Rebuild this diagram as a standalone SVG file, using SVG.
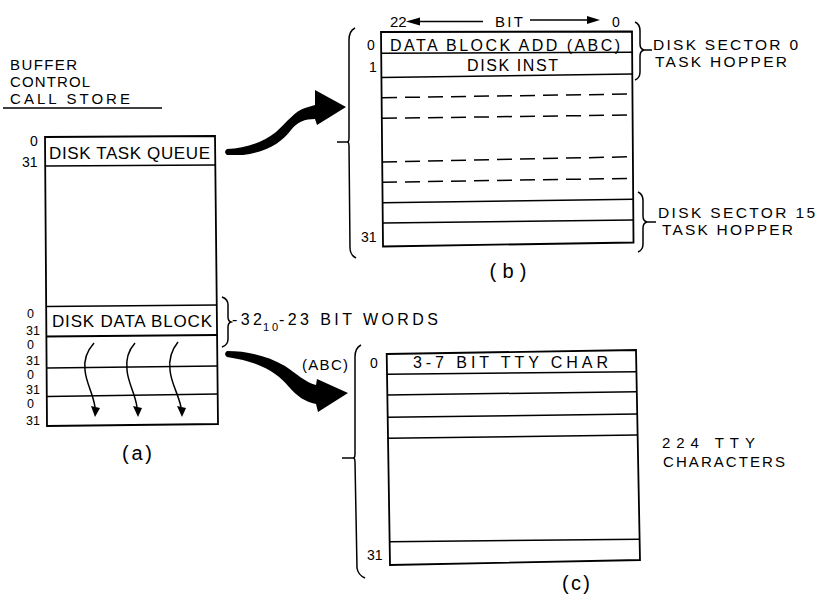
<svg xmlns="http://www.w3.org/2000/svg" width="819" height="599" viewBox="0 0 819 599">
<style>
.t{font-family:"Liberation Sans",Arial,sans-serif;fill:#000}
.ln{stroke:#000;stroke-width:1.8;fill:none}
.rw{stroke:#000;stroke-width:1.5;fill:none}
.ds{stroke:#000;stroke-width:1.5;fill:none;stroke-dasharray:15 8}
.blk{fill:#000;stroke:none}
</style>
<rect width="819" height="599" fill="#fff"/>

<g id="heading">
<text class="t" x="10" y="70" font-size="15" textLength="67" lengthAdjust="spacing">BUFFER</text>
<text class="t" x="10" y="87" font-size="15" textLength="80" lengthAdjust="spacing">CONTROL</text>
<text class="t" x="10" y="104" font-size="15" textLength="120" lengthAdjust="spacing">CALL  STORE</text>
<line class="rw" x1="3" y1="108" x2="162" y2="108"/>
</g>

<g id="panel-a">
<polygon class="ln" points="45,137 215,136 218,424 47,426"/>
<line class="rw" x1="45" y1="166" x2="215" y2="165"/>
<line class="rw" x1="46" y1="306.5" x2="217" y2="305"/>
<line class="ln" x1="46" y1="336.5" x2="217" y2="335"/>
<line class="rw" x1="47" y1="368" x2="218" y2="366"/>
<line class="rw" x1="47" y1="396.5" x2="218" y2="394"/>
<text class="t" x="49" y="159" font-size="17" textLength="161" lengthAdjust="spacing">DISK  TASK QUEUE</text>
<text class="t" x="52" y="327" font-size="17" textLength="160" lengthAdjust="spacing">DISK  DATA  BLOCK</text>
<text class="t" x="30" y="146" font-size="14">0</text>
<text class="t" x="22" y="167" font-size="14">31</text>
<text class="t" x="27" y="318" font-size="12.5">0</text>
<text class="t" x="26" y="335" font-size="12.5">31</text>
<text class="t" x="27" y="349" font-size="12.5">0</text>
<text class="t" x="26" y="364.5" font-size="12.5">31</text>
<text class="t" x="27" y="379" font-size="12.5">0</text>
<text class="t" x="26" y="393.5" font-size="12.5">31</text>
<text class="t" x="27" y="408" font-size="12.5">0</text>
<text class="t" x="26" y="425" font-size="12.5">31</text>
<path class="rw" d="M222,297 Q228,299 228,305 L228,317 Q228,321 231,322 Q228,323 228,327 L228,339 Q228,345 222,347"/>
<text class="t" font-size="16"><tspan x="232" y="325" textLength="30" lengthAdjust="spacing">-32</tspan><tspan x="263" y="331" font-size="11" textLength="15" lengthAdjust="spacing">10</tspan><tspan x="279" y="325" textLength="159" lengthAdjust="spacing">-23 BIT  WORDS</tspan></text>
<text class="t" x="137" y="460" font-size="20" text-anchor="middle" textLength="30" lengthAdjust="spacing">(a)</text>
</g>

<g id="panel-b">
<polygon class="ln" points="381,32 632,31.5 633.5,242.5 383,246.5"/>
<line class="rw" x1="381" y1="53.3" x2="632" y2="52.3"/>
<line class="rw" x1="381" y1="77.5" x2="632" y2="74"/>
<line class="ds" x1="382" y1="97.7" x2="632" y2="94"/>
<line class="ds" x1="382" y1="118.3" x2="632" y2="115"/>
<line class="ds" x1="382" y1="162" x2="633" y2="156.7"/>
<line class="ds" x1="382" y1="182.3" x2="633" y2="178.3"/>
<line class="rw" x1="383" y1="202.7" x2="633" y2="199.3"/>
<line class="rw" x1="383" y1="223" x2="633" y2="220"/>
<text class="t" x="390" y="51" font-size="16" textLength="230" lengthAdjust="spacing">DATA  BLOCK  ADD (ABC)</text>
<text class="t" x="467" y="71" font-size="16" textLength="91" lengthAdjust="spacing">DISK  INST</text>
<text class="t" x="367" y="50" font-size="14">0</text>
<text class="t" x="369" y="72" font-size="14">1</text>
<text class="t" x="361" y="242" font-size="14">31</text>
<text class="t" x="390" y="27" font-size="15">22</text>
<line class="rw" x1="418" y1="21.5" x2="483" y2="21.5"/>
<polygon class="blk" points="406,21.5 420,17.5 420,25.5"/>
<text class="t" x="495" y="27" font-size="15" textLength="28" lengthAdjust="spacing">BIT</text>
<line class="rw" x1="530" y1="20" x2="589" y2="20"/>
<polygon class="blk" points="600,20 587,16 587,24"/>
<text class="t" x="612" y="27" font-size="14">0</text>
<path class="rw" d="M355,28 Q349,31 349,40 L349,138 Q349,141 348,142 Q349,143 349,146 L350,248 Q350,255 356,258"/>
<line class="rw" x1="337" y1="142" x2="348" y2="142"/>
<path class="rw" d="M635,22 Q640,24 640,31 L640,44 Q640,49 644,50 Q640,51 640,56 L640,72 Q640,78 635,80"/>
<line class="rw" x1="644" y1="50" x2="652" y2="50"/>
<path class="rw" d="M638,192 Q643,194 643,201 L643,216 Q643,221 647,222 Q643,223 643,228 L643,244 Q643,250 638,252"/>
<line class="rw" x1="647" y1="222" x2="656" y2="222"/>
<text class="t" x="653" y="50" font-size="15.5" textLength="145" lengthAdjust="spacing">DISK  SECTOR  0</text>
<text class="t" x="655" y="67" font-size="15.5" textLength="132" lengthAdjust="spacing">TASK  HOPPER</text>
<text class="t" x="658" y="218" font-size="15.5" textLength="157" lengthAdjust="spacing">DISK  SECTOR  15</text>
<text class="t" x="662" y="235" font-size="15.5" textLength="131" lengthAdjust="spacing">TASK  HOPPER</text>
<text class="t" x="508" y="278" font-size="20" text-anchor="middle" textLength="37" lengthAdjust="spacing">(b)</text>
</g>

<g id="panel-c">
<polygon class="ln" points="386.7,354 636,350 640,560 390,565"/>
<line class="rw" x1="386.8" y1="374.3" x2="636" y2="371.7"/>
<line class="rw" x1="387" y1="395" x2="636.5" y2="391.7"/>
<line class="rw" x1="387.5" y1="417.3" x2="637" y2="414"/>
<line class="rw" x1="387.7" y1="438.3" x2="637" y2="435"/>
<line class="rw" x1="389.5" y1="541.7" x2="639.5" y2="539.3"/>
<text class="t" x="413" y="368" font-size="16" textLength="195" lengthAdjust="spacing">3-7  BIT  TTY  CHAR</text>
<text class="t" x="370" y="368" font-size="14">0</text>
<text class="t" x="367" y="560" font-size="14">31</text>
<text class="t" x="302" y="370" font-size="15" textLength="46" lengthAdjust="spacing">(ABC)</text>
<path class="rw" d="M361,345 Q355,348 355,357 L355,454 Q355,457 354,458 Q355,459 355,462 L357,568 Q358,575 365,578"/>
<line class="rw" x1="342" y1="458" x2="354" y2="458"/>
<text class="t" x="662" y="448" font-size="15" textLength="93" lengthAdjust="spacing">224 TTY</text>
<text class="t" x="663" y="467" font-size="15" textLength="122" lengthAdjust="spacing">CHARACTERS</text>
<text class="t" x="576" y="590" font-size="20" text-anchor="middle" textLength="28" lengthAdjust="spacing">(c)</text>
</g>

<g id="connectors">
<path class="blk" d="M227,149 C245,148 262,143 276,132 C287,122 295,111 305,108 L315,105 L315,90 L346,107 L317,125 L315,119 C305,119 297,122 291,130 C282,142 268,152 243,155 L227,155 Q223,152 227,149 Z"/>
<path class="blk" d="M227,351 C248,351 268,356 285,366 C297,374 305,382 316,385 L317,379 L348,393 L318,412 L316,404 C305,402 297,396 289,387 C278,374 262,362 227,357 Q223,354 227,351 Z"/>
<path class="rw" d="M94,343 C86,352 84,362 85,370 C86,383 93,393 95,407"/>
<polygon class="blk" points="95,417 91,406 100,408"/>
<path class="rw" d="M135,343 C127,352 126,362 127,370 C128,383 135,393 137,407"/>
<polygon class="blk" points="138,417 133,406 142,408"/>
<path class="rw" d="M178,342 C170,352 169,362 170,370 C171,383 178,393 181,407"/>
<polygon class="blk" points="182,417 177,406 186,408"/>
</g>
</svg>
